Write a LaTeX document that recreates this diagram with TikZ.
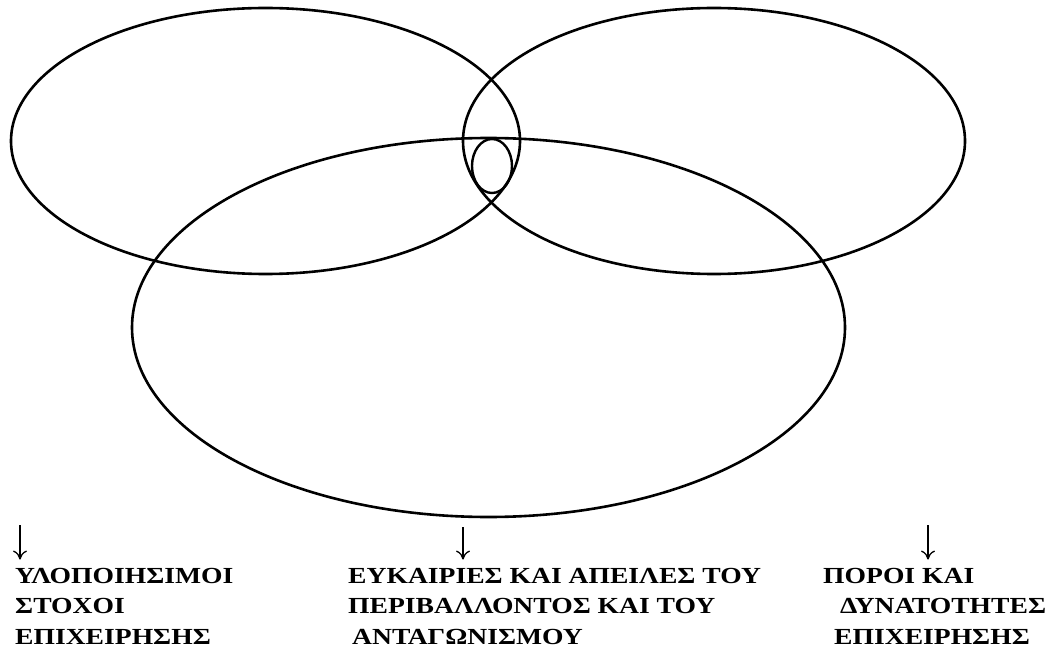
\documentclass[tikz,border=0pt]{standalone}
\usepackage{fontspec}
\setmainfont{Liberation Serif}
\newfontfamily\lblfont[FakeStretch=1.2]{Liberation Serif}
\usetikzlibrary{arrows.meta}
\begin{document}
\begin{tikzpicture}[x=1pt,y=-1pt,
  ring/.style={draw=black,line width=2.6pt},
  smallring/.style={draw=black,line width=2.4pt},
  lbl/.style={anchor=base west,inner sep=0pt,font=\lblfont\fontsize{23}{30.5}\selectfont\bfseries},
  downarr/.style={line width=1.3pt,-{To[length=9pt,width=14pt]}}]
\useasboundingbox (0,0) rectangle (1047,655);
% circles
\draw[ring] (265.5,141) ellipse [x radius=254.5pt,y radius=133pt];
\draw[ring] (714,141) ellipse [x radius=251pt,y radius=133pt];
\draw[ring] (488.5,327.5) ellipse [x radius=356.5pt,y radius=189.5pt];
\draw[smallring] (492,166) ellipse [x radius=20pt,y radius=27pt];
% labels
\node[lbl] (l1) at (15,583) {ΥΛΟΠΟΙΗΣΙΜΟΙ};
\node[lbl] (l2) at (15,613.5) {ΣΤΟΧΟΙ};
\node[lbl] (l3) at (15,644) {ΕΠΙΧΕΙΡΗΣΗΣ};
\node[lbl] (m1) at (348,583) {ΕΥΚΑΙΡΙΕΣ ΚΑΙ ΑΠΕΙΛΕΣ ΤΟΥ};
\node[lbl] (m2) at (348,613.5) {ΠΕΡΙΒΑΛΛΟΝΤΟΣ ΚΑΙ ΤΟΥ};
\node[lbl] (m3) at (352,644) {ΑΝΤΑΓΩΝΙΣΜΟΥ};
\node[lbl] (r1) at (823,583) {ΠΟΡΟΙ ΚΑΙ};
\node[lbl] (r2) at (840,613.5) {ΔΥΝΑΤΟΤΗΤΕΣ};
\node[lbl] (r3) at (834,644) {ΕΠΙΧΕΙΡΗΣΗΣ};
% arrows
\coordinate (a1) at (20,525);
\coordinate (a2) at (463,527);
\coordinate (a3) at (928,525);
\draw[downarr] (a1) -- (a1 |- l1.north) [shorten >=8pt];
\draw[downarr] (a2) -- (a2 |- m1.north) [shorten >=8pt];
\draw[downarr] (a3) -- (a3 |- r1.north) [shorten >=8pt];
\end{tikzpicture}
\end{document}
